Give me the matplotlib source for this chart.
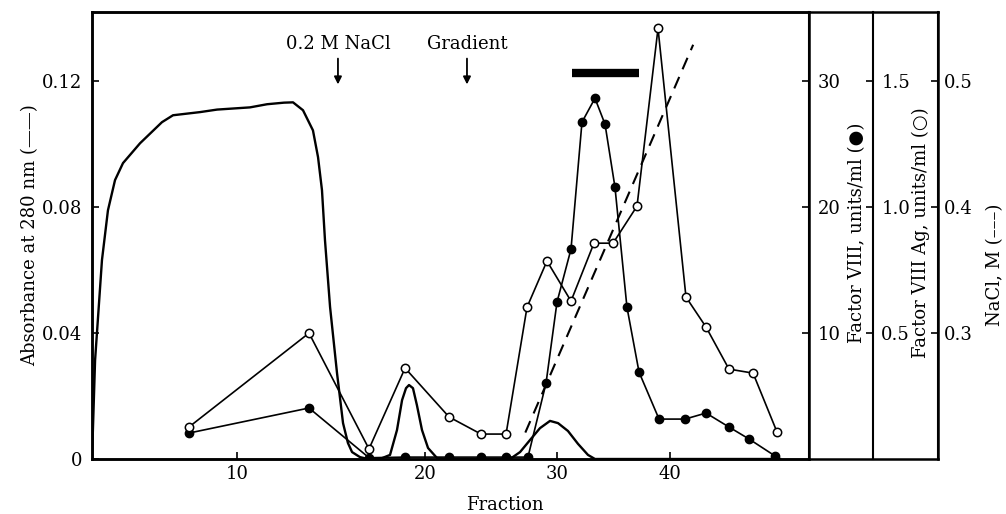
import numpy as np
import matplotlib.pyplot as plt

plt.rcParams['font.family'] = 'DejaVu Serif'
plt.rcParams['font.size'] = 13

# the fraction axis of the original figure is not evenly spaced
frac_knots = [2, 10, 20, 30, 40, 52]
pos_knots = [0, 145, 333, 465, 578, 717]

def fwd(x):
    return np.interp(x, frac_knots, pos_knots)

def inv(p):
    return np.interp(p, pos_knots, frac_knots)

# absorbance at 280 nm (solid line)
a280_frac = [2.0, 2.17, 2.55, 2.88, 3.27, 3.71, 4.65, 5.86, 6.47, 7.96, 8.9, 10.69,
             11.6, 12.5, 12.98, 13.51, 14.04, 14.31, 14.52, 14.68, 14.95, 15.32,
             15.64, 15.9, 16.12, 16.54, 16.97, 17.6, 18.14, 18.51, 18.78, 18.99,
             19.15, 19.36, 19.57, 19.84, 20.23, 20.91, 21.5, 26.44, 27.2, 27.95,
             28.71, 29.47, 30.09, 30.97, 31.86, 32.74, 33.36, 49.5]
a280 = [0.0, 0.0314, 0.0632, 0.079, 0.0886, 0.094, 0.1003, 0.107, 0.1092, 0.1102,
        0.111, 0.1117, 0.1127, 0.1132, 0.1133, 0.1108, 0.1044, 0.0959, 0.0854,
        0.0695, 0.0483, 0.0273, 0.0114, 0.0051, 0.0022, 0.0006, 0.0, 0.0, 0.0013,
        0.0092, 0.0187, 0.0225, 0.0235, 0.0225, 0.0171, 0.0092, 0.0035, 0.0003,
        0.0, 0.0, 0.0022, 0.006, 0.0098, 0.0121, 0.0114, 0.0089, 0.0048, 0.0013,
        0.0, 0.0]

# factor VIII, units/ml (filled circles)
f8_frac = [7.35, 13.83, 17.02, 18.94, 21.82, 24.24, 26.14, 27.8, 29.17, 30.0,
           31.24, 32.21, 33.36, 34.25, 35.13, 36.19, 37.26, 39.03, 41.3, 43.11,
           45.09, 46.82, 49.07]
f8 = [2.06, 4.05, 0.1, 0.15, 0.15, 0.15, 0.15, 0.15, 6.03, 12.46, 16.67, 26.75,
      28.65, 26.59, 21.59, 12.06, 6.9, 3.17, 3.17, 3.65, 2.54, 1.59, 0.24]

# factor VIII Ag, units/ml (open circles)
ag_frac = [7.35, 13.83, 17.02, 18.94, 21.82, 24.24, 26.14, 27.73, 29.24, 31.24,
           33.27, 34.96, 37.08, 38.94, 41.38, 43.11, 45.09, 47.17, 49.24]
ag = [0.127, 0.50, 0.04, 0.361, 0.167, 0.099, 0.099, 0.603, 0.786, 0.627, 0.857,
      0.857, 1.004, 1.710, 0.643, 0.524, 0.357, 0.341, 0.107]

# NaCl gradient, M (dashed)
nacl_frac = [27.6, 42.0]
nacl = [0.221, 0.529]

# pooled fractions (black bar)
pool_frac = [31.3, 37.3]
pool_level = 0.1225

W, H = 1006, 514
fig = plt.figure(figsize=(W / 100, H / 100), dpi=100)
left, bottom, width, height = 92 / W, 55 / H, 717 / W, 447 / H

frame = fig.add_axes([left, bottom, 846 / W, height])
frame.set_xticks([])
frame.set_yticks([])
for s in frame.spines.values():
    s.set_linewidth(1.8)

ax = fig.add_axes([left, bottom, width, height])
ax.patch.set_alpha(0)
ax.set_xscale('function', functions=(fwd, inv))
ax.set_xlim(2, 52)
ax.set_ylim(0, 0.142)
for s in ax.spines.values():
    s.set_linewidth(1.8)

ax2 = ax.twinx()
ax2.set_ylim(0, 0.142 * 250)
ax3 = ax.twinx()
ax3.set_ylim(0, 0.142 * 12.5)
ax3.spines['right'].set_position(('axes', 781 / 717))
ax4 = ax.twinx()
ax4.set_ylim(0.2, 0.2 + 0.142 * 2.5)
ax4.spines['right'].set_position(('axes', 846 / 717))
for a in (ax2, ax3, ax4):
    for side in ('left', 'top', 'bottom'):
        a.spines[side].set_visible(False)
    a.spines['right'].set_linewidth(1.5)

ax.plot(a280_frac, a280, color='k', lw=1.7)
ax2.plot(f8_frac, f8, color='k', lw=1.2, marker='o', ms=6)
ax3.plot(ag_frac, ag, color='k', lw=1.2, marker='o', ms=6, mfc='white',
         mec='k', mew=1.1)
ax4.plot(nacl_frac, nacl, color='k', lw=1.5, ls=(0, (6, 4)))
ax.plot(pool_frac, [pool_level, pool_level], color='k', lw=6,
        solid_capstyle='butt')

for xa, txt in [(15.37, '0.2 M NaCl'), (23.18, 'Gradient')]:
    ax.annotate('', xy=(xa, 0.119), xytext=(xa, 0.1272),
                arrowprops=dict(arrowstyle='-|>', color='k', lw=1.3,
                                mutation_scale=11, shrinkA=0, shrinkB=0))
    ax.text(xa, 0.1317, txt, ha='center', va='center')

ax.set_xticks([10, 20, 30, 40])
ax.set_xticklabels(['10', '20', '30', '40'])
ax.set_yticks([0, 0.04, 0.08, 0.12])
ax.set_yticklabels(['0', '0.04', '0.08', '0.12'])
ax2.set_yticks([10, 20, 30])
ax3.set_yticks([0.5, 1.0, 1.5])
ax3.set_yticklabels(['0.5', '1.0', '1.5'])
ax4.set_yticks([0.3, 0.4, 0.5])
ax4.set_yticklabels(['0.3', '0.4', '0.5'])

ax.tick_params(axis='x', direction='in', length=5, width=1.2, pad=4)
ax.tick_params(axis='y', direction='in', length=5, width=1.2, pad=7)
ax2.tick_params(direction='in', length=5, width=1.2, pad=6)
ax3.tick_params(direction='in', length=5, width=1.2, pad=6)
ax4.tick_params(direction='in', length=5, width=1.2, pad=4)

fig.text(505 / W, 1 - 505 / H, 'Fraction', ha='center', va='center')
fig.text(30 / W, 1 - 235 / H, 'Absorbance at 280 nm (——)', rotation=90,
         ha='center', va='center')
fig.text(857 / W, 1 - 233 / H, 'Factor VIII, units/ml (●)', rotation=90,
         ha='center', va='center')
fig.text(921 / W, 1 - 233 / H, 'Factor VIII Ag, units/ml (○)', rotation=90,
         ha='center', va='center')
fig.text(995 / W, 1 - 265 / H, 'NaCl, M (–––)', rotation=90,
         ha='center', va='center')

fig.savefig('out.png', dpi=100)
